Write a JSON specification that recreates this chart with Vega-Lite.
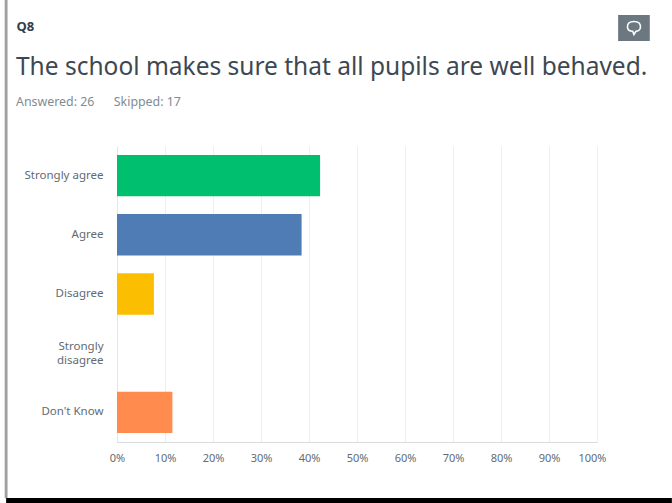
{
"$schema":"https://vega.github.io/schema/vega-lite/v6.json",
"width":480,"height":296,
"autosize":"none",
"padding":{"left":117,"top":146,"right":75,"bottom":61},
"background":"white",
"title":{"text":"The school makes sure that all pupils are well behaved.","subtitle":"Answered: 26\u00a0\u00a0\u00a0\u00a0\u00a0\u00a0Skipped: 17","anchor":"start","frame":"group","dx":-101,"offset":-111,"font":"Noto Sans","fontSize":24.5,"fontWeight":"normal","color":"#3d4852","subtitleFont":"Noto Sans","subtitleFontSize":12.4,"subtitleColor":"#7f8c94","subtitlePadding":15},
"config":{"view":{"stroke":null},"font":"Noto Sans"},
"resolve":{"scale":{"y":"independent"}},
"layer":[
{"data":{"values":[
{"Answer":"Strongly agree","Percent":42.31},
{"Answer":"Agree","Percent":38.46},
{"Answer":"Disagree","Percent":7.69},
{"Answer":"Strongly disagree","Percent":0},
{"Answer":"Don't Know","Percent":11.54}]},
"mark":{"type":"bar"},
"encoding":{
"y":{"field":"Answer","type":"nominal","sort":null,"title":"Q8","scale":{"paddingInner":0.3,"paddingOuter":0.15},
"axis":{"ticks":false,"grid":false,"domainColor":"#e3e5e6","labelColor":"#5f6b73","labelFontSize":11.5,"labelPadding":14,"labelLineHeight":14,"labelLimit":110,
"labelOffset":{"expr":"datum.value==='Strongly disagree'?-6:0"},
"labelExpr":"datum.label=='Strongly disagree'?['Strongly','disagree']:datum.label",
"titleAngle":0,"titleX":-101,"titleY":-120,"titleAlign":"left","titleBaseline":"middle","titleFontSize":13,"titleFontWeight":"bold","titleColor":"#333e48"}},
"x":{"field":"Percent","type":"quantitative","title":null,"scale":{"domain":[0,100],"nice":false},
"axis":{"values":[0,10,20,30,40,50,60,70,80,90,100],"labelExpr":"datum.value+'%'","ticks":false,"grid":true,"gridColor":"#eeeff0","domainColor":"#d9dbdc","labelColor":"#5f6b73","labelFontSize":11,"labelPadding":10,"labelOverlap":false,"labelFlush":false,"labelOffset":{"expr":"datum.value===100?-5:0"}}},
"color":{"field":"Answer","type":"nominal","sort":null,"legend":null,"scale":{"domain":["Strongly agree","Agree","Disagree","Strongly disagree","Don't Know"],"range":["#00bf6f","#507cb6","#fcbe00","#9b9b9b","#ff8b4f"]}}
}},
{"data":{"values":[{"part":"icon"}]},"mark":{"type":"rect","color":"#6b787f","clip":false},
"encoding":{"x":{"datum":104.4,"type":"quantitative"},"x2":{"datum":111},
"y":{"datum":1.3547,"type":"quantitative","scale":{"domain":[0,1],"nice":false,"zero":false},"axis":null},"y2":{"datum":1.4426}}},
{"data":{"values":[{"part":"icon bubble"}]},"mark":{"type":"point","filled":false,"stroke":"white","strokeWidth":1.6,"shape":"M-1,-0.2 C-1,-0.8 -0.5,-1 0,-1 C0.5,-1 1,-0.8 1,-0.2 C1,0.3 0.6,0.5 0.3,0.5 L0,1 L-0.2,0.5 C-0.6,0.5 -1,0.3 -1,-0.2 Z","size":170,"opacity":1},
"encoding":{"x":{"datum":107.7,"type":"quantitative"},
"y":{"datum":1.3986,"type":"quantitative","scale":{"domain":[0,1],"nice":false,"zero":false},"axis":null}}},
{"data":{"values":[{"part":"frame left"}]},"mark":{"type":"rect","color":"#a0a0a0","clip":false},
"encoding":{"x":{"datum":-23.4,"type":"quantitative"},"x2":{"datum":-22.8},
"y":{"datum":-0.19,"type":"quantitative","scale":{"domain":[0,1],"nice":false,"zero":false},"axis":null},"y2":{"datum":1.5}}},
{"data":{"values":[{"part":"frame bottom"}]},"mark":{"type":"rect","color":"#000000","clip":false},
"encoding":{"x":{"datum":-23.1,"type":"quantitative"},"x2":{"datum":115.6},
"y":{"datum":-0.2095,"type":"quantitative","scale":{"domain":[0,1],"nice":false,"zero":false},"axis":null},"y2":{"datum":-0.1892}}}
]
}
